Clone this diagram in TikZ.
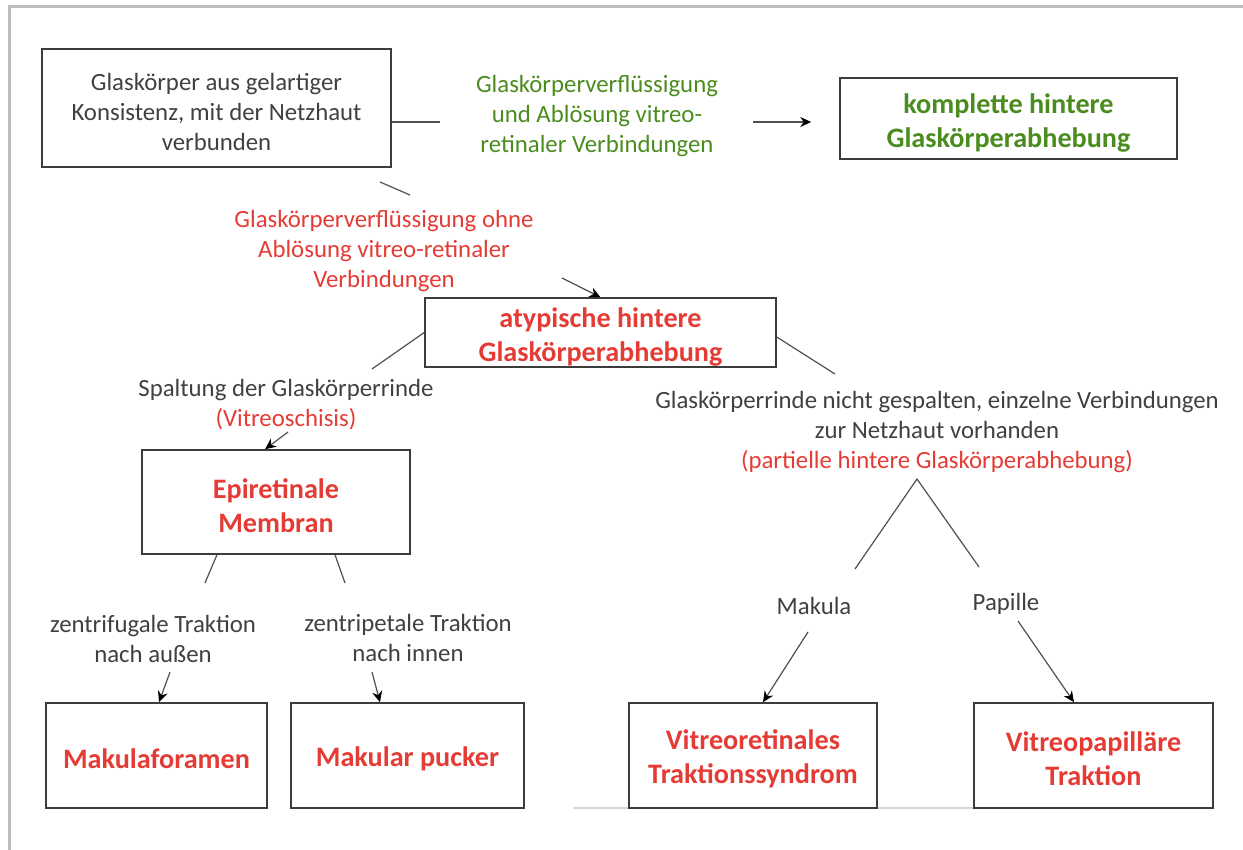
\documentclass[tikz,border=0pt]{standalone}
\usepackage{fontspec}
\setmainfont{Carlito}
\usetikzlibrary{arrows.meta}
\newcommand\boxstrut[1]{\rule{0pt}{#1}}

\begin{document}
\begin{tikzpicture}[x=0.5pt,y=-0.5pt,
  mybox/.style={draw=boxgray,line width=0.75pt,align=center,inner sep=0pt,
    font=\fontsize{14.1}{17}\selectfont\bfseries,text=myred},
  mytext/.style={align=center,inner sep=0pt,font=\fontsize{12.4}{15}\selectfont,text=textgray},
  myline/.style={draw=linegray,line width=0.6pt},
  myarrow/.style={myline,-{Stealth[length=5.5pt,width=5pt,color=black]}}]
\definecolor{myred}{HTML}{E53B35}
\definecolor{mygreen}{HTML}{4B8C1E}
\definecolor{textgray}{HTML}{404040}
\definecolor{boxgray}{HTML}{3C3C3C}
\definecolor{linegray}{HTML}{505050}
\definecolor{framegray}{HTML}{BEBEBE}
\useasboundingbox (0,0) rectangle (1243,850);
\draw[framegray,line width=1.5pt] (9,850) -- (9,7) -- (1243,7);
\draw[framegray!60,line width=0.6pt] (573,808) -- (1213,808);

% Kaesten
\node[mybox,text=textgray,font=\fontsize{12.4}{15}\selectfont,minimum width=174.5pt,minimum height=59pt] (gel) at (216.5,108)
  {\boxstrut{12.5pt}Glaskörper aus gelartiger\\Konsistenz, mit der Netzhaut\\verbunden};
\node[mybox,text=mygreen,minimum width=168.5pt,minimum height=40.5pt] (komp) at (1008.5,118.5)
  {\boxstrut{14pt}komplette hintere\\Glaskörperabhebung};
\node[mybox,minimum width=175.5pt,minimum height=34.5pt] (atyp) at (600.5,332.5)
  {\boxstrut{14pt}atypische hintere\\Glaskörperabhebung};
\node[mybox,minimum width=134pt,minimum height=52pt] (epi) at (276,502) {\boxstrut{14pt}Epiretinale\\Membran};
\foreach \nm/\x/\w/\txt in {foramen/156.5/110.5/Makulaforamen,pucker/407.5/116.5/Makular pucker,
    vrts/753/124/Vitreoretinales\\Traktionssyndrom,vpt/1093.5/119.5/Vitreopapilläre\\Traktion}
  {\node[mybox,minimum width=\w pt,minimum height=52.5pt] (\nm) at (\x,755.5) {\boxstrut{13.5pt}\txt};}

% Beschriftungen
\node[mytext,text=mygreen] (flgreen) at (597,116) {Glaskörperverflüssigung\\und Ablösung vitreo-\\retinaler Verbindungen};
\node[mytext,text=myred] (flred) at (384,251) {Glaskörperverflüssigung ohne\\Ablösung vitreo-retinaler\\Verbindungen};
\node[mytext] (spalt) at (286,405) {Spaltung der Glaskörperrinde\\\textcolor{myred}{(Vitreoschisis)}};
\node[mytext] (nicht) at (937,432) {Glaskörperrinde nicht gespalten, einzelne Verbindungen\\zur Netzhaut vorhanden\\\textcolor{myred}{(partielle hintere Glaskörperabhebung)}};
\node[mytext] (zfug) at (153,639) {zentrifugale Traktion\\nach außen};
\node[mytext] (zpet) at (408,638) {zentripetale Traktion\\nach innen};
\node[mytext] (mak) at (814,606) {Makula};
\node[mytext] (pap) at (1006,604) {Papille};

% Verbindungen
\coordinate (c1) at (440,122);
\coordinate (c2) at (753,122);
\coordinate (c3) at (380,182);
\coordinate (c4) at (410,195);
\coordinate (c5) at (562,278);
\coordinate (c6) at (372,369);
\coordinate (c7) at (288,432);
\coordinate (c8) at (205,583);
\coordinate (c9) at (345,583);
\coordinate (c10) at (170,672);
\coordinate (c11) at (372,672);
\coordinate (c12) at (835,374);
\coordinate (apex) at (917,479);
\coordinate (c13) at (855,569);
\coordinate (c14) at (979,567);
\coordinate (c15) at (808,632);
\coordinate (c16) at (1018,621);
\draw[myline] (gel.east |- c1) -- (c1);
\draw[myarrow,shorten >=14pt] (c2) -- (komp.west |- c2);
\draw[myline] (c3) -- (c4);
\draw[myarrow] (c5) -- (atyp.north);
\draw[myline] (atyp.west) -- (c6);
\draw[myarrow] (c7) -- ([xshift=-5.5pt]epi.north);
\draw[myline] ([xshift=-29.5pt]epi.south) -- (c8);
\draw[myline] ([xshift=29.5pt]epi.south) -- (c9);
\draw[myarrow] (c10) -- ([xshift=1.25pt]foramen.north);
\draw[myarrow] (c11) -- ([xshift=-13.75pt]pucker.north);
\draw[myline] ([yshift=-2.25pt]atyp.east) -- (c12);
\draw[myline] (c13) -- (apex) -- (c14);
\draw[myarrow] (c15) -- ([xshift=5pt]vrts.north);
\draw[myarrow] (c16) -- ([xshift=-9.75pt]vpt.north);
\end{tikzpicture}
\end{document}
